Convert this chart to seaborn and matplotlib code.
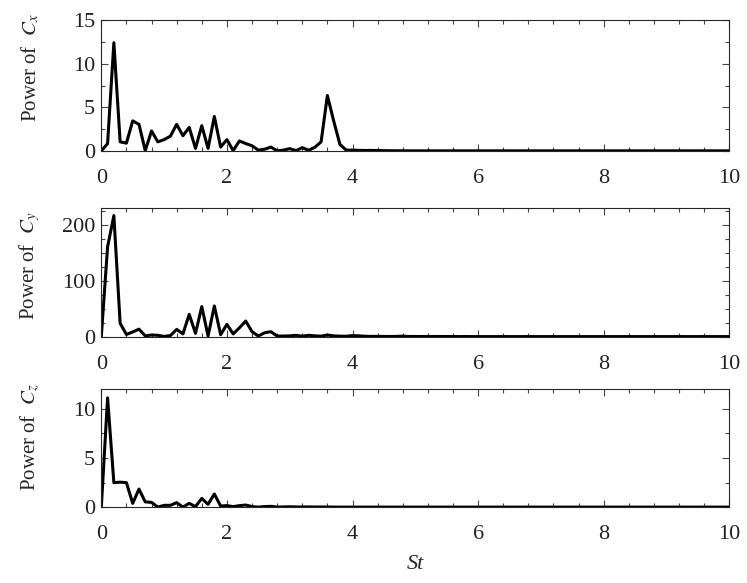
import numpy as np
import pandas as pd
import matplotlib
matplotlib.use("Agg")
import matplotlib.pyplot as plt
import seaborn as sns
from matplotlib.ticker import MultipleLocator

# Strouhal number axis (spectrum resolution 0.1)
st = np.round(np.arange(0, 10.05, 0.1), 2)

# Power spectra
power_cx = [
    0.0, 0.85, 12.4, 1.05, 0.9, 3.45, 3.05, 0.05, 2.3, 1.05,
    1.3, 1.7, 3.05, 1.75, 2.7, 0.3, 2.9, 0.3, 3.95, 0.45,
    1.3, 0.05, 1.15, 0.85, 0.6, 0.1, 0.2, 0.45, 0.02, 0.1,
    0.27, 0.04, 0.38, 0.08, 0.42, 1.05, 6.35, 3.45, 0.75, 0.1,
    0.1, 0.08, 0.06, 0.07, 0.05, 0.04, 0.03, 0.03, 0.02, 0.02,
    0.02, 0.02, 0.02, 0.02, 0.02, 0.02, 0.02, 0.02, 0.02, 0.02,
    0.02, 0.02, 0.02, 0.02, 0.02, 0.02, 0.02, 0.02, 0.02, 0.02,
    0.02, 0.02, 0.02, 0.02, 0.02, 0.02, 0.02, 0.02, 0.02, 0.02,
    0.02, 0.02, 0.02, 0.02, 0.02, 0.02, 0.02, 0.02, 0.02, 0.02,
    0.02, 0.02, 0.02, 0.02, 0.02, 0.02, 0.02, 0.02, 0.02, 0.02,
    0.02,
]
power_cy = [
    0.0, 161.0, 217.0, 24.0, 4.0, 8.5, 13.5, 1.5, 3.0, 2.5,
    0.5, 2.0, 13.0, 5.0, 40.0, 6.0, 54.0, 1.2, 55.0, 3.6,
    22.0, 5.0, 16.0, 28.0, 9.0, 1.2, 7.0, 9.0, 1.2, 1.2,
    1.5, 2.5, 1.0, 2.5, 1.5, 1.0, 3.0, 1.5, 1.0, 0.8,
    2.0, 1.5, 0.8, 0.5, 0.6, 0.5, 0.4, 0.5, 1.0, 0.4,
    0.4, 0.3, 0.3, 0.4, 0.3, 0.3, 0.3, 0.2, 0.3, 0.2,
    0.2, 0.2, 0.2, 0.2, 0.2, 0.2, 0.2, 0.2, 0.2, 0.2,
    0.2, 0.2, 0.2, 0.2, 0.2, 0.2, 0.2, 0.2, 0.2, 0.2,
    0.2, 0.2, 0.2, 0.2, 0.2, 0.2, 0.2, 0.2, 0.2, 0.2,
    0.2, 0.2, 0.2, 0.2, 0.2, 0.2, 0.2, 0.2, 0.2, 0.2,
    0.2,
]
power_cz = [
    0.0, 11.1, 2.5, 2.55, 2.5, 0.4, 1.85, 0.55, 0.5, 0.02,
    0.2, 0.2, 0.47, 0.02, 0.4, 0.07, 0.9, 0.3, 1.35, 0.13,
    0.17, 0.07, 0.17, 0.23, 0.07, 0.02, 0.07, 0.1, 0.02, 0.04,
    0.05, 0.04, 0.03, 0.04, 0.03, 0.03, 0.03, 0.02, 0.02, 0.02,
    0.02, 0.02, 0.02, 0.02, 0.02, 0.02, 0.02, 0.02, 0.02, 0.02,
    0.02, 0.02, 0.02, 0.02, 0.02, 0.02, 0.02, 0.02, 0.02, 0.02,
    0.02, 0.02, 0.02, 0.02, 0.02, 0.02, 0.02, 0.02, 0.02, 0.02,
    0.02, 0.02, 0.02, 0.02, 0.02, 0.02, 0.02, 0.02, 0.02, 0.02,
    0.02, 0.02, 0.02, 0.02, 0.02, 0.02, 0.02, 0.02, 0.02, 0.02,
    0.02, 0.02, 0.02, 0.02, 0.02, 0.02, 0.02, 0.02, 0.02, 0.02,
    0.02,
]

labels = ["Power of  $C_x$", "Power of  $C_y$", "Power of  $C_z$"]
ylims = [(0, 15), (0, 230), (0, 12)]
ymajor = [5, 100, 5]
yminor = [2.5, 25, 2.5]
label_y = [0.64, 0.55, 0.59]

sns.set_style("ticks")
plt.rcParams['font.family'] = ['Liberation Serif', 'DejaVu Serif']
plt.rcParams['mathtext.fontset'] = 'stix'
plt.rcParams['font.size'] = 16

W, H = 747, 583
fig = plt.figure(figsize=(W / 100, H / 100), dpi=100)

# axes boxes in pixels: (top, bottom)
boxes = [(20, 151), (208.3, 336.7), (389, 507.3)]
left, right = 101.3, 729.3

df = pd.DataFrame({"St": st, "Cx": power_cx, "Cy": power_cy, "Cz": power_cz})

for i, (col, (top, bot)) in enumerate(zip(["Cx", "Cy", "Cz"], boxes)):
    ax = fig.add_axes([left / W, 1 - bot / H, (right - left) / W, (bot - top) / H])
    sns.lineplot(data=df, x="St", y=col, ax=ax, color="black", lw=2.2,
                 estimator=None)
    ax.set_xlim(0, 10)
    ax.set_ylim(*ylims[i])
    ax.xaxis.set_major_locator(MultipleLocator(2))
    ax.xaxis.set_minor_locator(MultipleLocator(0.4))
    ax.yaxis.set_major_locator(MultipleLocator(ymajor[i]))
    ax.yaxis.set_minor_locator(MultipleLocator(yminor[i]))
    ax.tick_params(which="both", direction="in", top=True, right=True,
                   color="#444444", width=0.8, labelcolor="#222222",
                   labelsize=16)
    ax.tick_params(which="major", length=5)
    ax.tick_params(which="minor", length=3)
    ax.tick_params(axis="x", which="major", pad=13)
    ax.tick_params(axis="y", which="major", pad=4.5)
    for sp in ax.spines.values():
        sp.set_color("#262626")
        sp.set_linewidth(0.8)
    ax.set_ylabel(labels[i], fontsize=15)
    ax.yaxis.set_label_coords(-0.095, label_y[i])
    if i < 2:
        ax.set_xlabel("")
    else:
        ax.set_xlabel("St", fontstyle="italic", fontsize=16, labelpad=8)

fig.savefig("out.png", dpi=100)
